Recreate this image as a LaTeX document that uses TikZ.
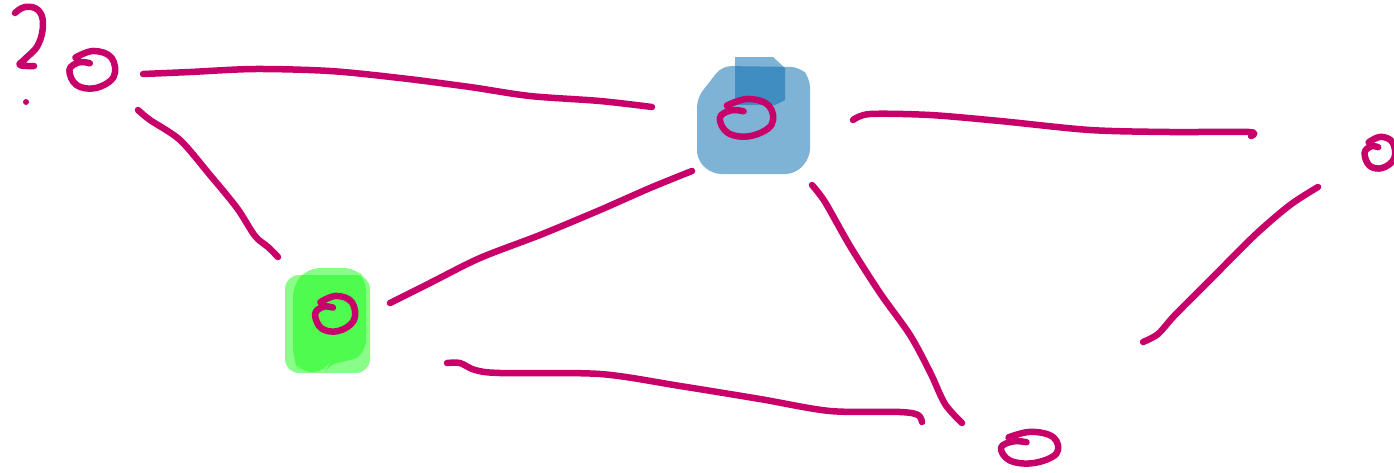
\documentclass[tikz,border=0pt]{standalone}
\definecolor{ink}{HTML}{C8006A}
\definecolor{bluefill}{RGB}{0,103,173}
\definecolor{greenfill}{RGB}{20,250,20}
\begin{document}
\begin{tikzpicture}[x=1pt,y=-1pt,
  stroke/.style={draw=ink,line width=6.5pt,line cap=round,line join=round},
  curl/.style={stroke},
  bluebox/.style={fill=bluefill,fill opacity=0.5,draw=none},
  greenbox/.style={fill=greenfill,fill opacity=0.5,draw=none}]
\useasboundingbox (0,0) rectangle (1394,472);
% node anchors
\coordinate (A) at (91,69);
\coordinate (B) at (745,117);
\coordinate (C) at (334,313);
\coordinate (D) at (1379,152);
\coordinate (E) at (1028,447);
% blue highlight
\fill[bluebox,rounded corners=9pt] (722,66) -- (800,67) -- (810,78) -- (810,158) -- (795,174) -- (712,174) -- (697,160) -- (697,98) -- cycle;
\fill[bluebox] (735,57) -- (773,57) -- (785,68) -- (785,100) -- (775,105) -- (735,105) -- cycle;
% green highlight
\fill[greenbox,rounded corners=12pt] (308,268) -- (356,268) -- (366,280) -- (366,352) -- (350,362) -- (330,362) -- (325,372) -- (300,372) -- (293,360) -- (293,285) -- cycle;
\fill[greenbox,rounded corners=14pt] (285,275) rectangle (370,373);
% question mark
\draw[stroke] plot[smooth,tension=0.7] coordinates {(15,13) (25,7) (38,10) (43,24) (38,45) (25,59) (20,65) (34,66)};
\fill[ink] (26,102) circle (3);
% node curls
\foreach \n/\rx/\ry in {A/24/19, B/28/19, C/21/18, D/16/16, E/30/16}{
  \begin{scope}[shift={(\n)},xscale=\rx,yscale=\ry]
  \draw[curl] plot[smooth,tension=0.65] coordinates {(-0.05,-0.3) (-0.5,-0.35) (-0.9,0.05) (-0.6,0.85) (0.2,1) (0.95,0.4) (0.85,-0.6) (0.1,-0.95) (-0.65,-0.6)};
  \end{scope}
}
% connectors (free ends as coordinates)
\draw[stroke] plot[smooth,tension=0.5] coordinates {(143,74) (190,72) (255,69) (330,71) (400,78) (470,87) (530,96) (600,101) (652,107)};
\draw[stroke] plot[smooth,tension=0.5] coordinates {(138,110) (150,120) (180,140) (210,175) (237,208) (255,236) (268,247) (278,257)};
\draw[stroke] plot[smooth,tension=0.5] coordinates {(390,303) (430,283) (480,258) (540,235) (600,210) (650,188) (692,171)};
\draw[stroke] plot[smooth,tension=0.5] coordinates {(853,120) (870,114) (930,115) (1000,121) (1090,130) (1170,132) (1249,132) (1251,136)};
\draw[stroke] plot[smooth,tension=0.5] coordinates {(812,185) (825,202) (850,246) (880,293) (910,335) (930,372) (945,404) (962,423)};
\draw[stroke] plot[smooth,tension=0.5] coordinates {(447,363) (460,363) (475,370) (500,373) (600,374) (680,386) (760,399) (830,411) (900,412) (918,415) (922,422)};
\draw[stroke] plot[smooth,tension=0.5] coordinates {(1318,187) (1290,205) (1255,235) (1210,280) (1175,315) (1158,334) (1143,342)};
\end{tikzpicture}
\end{document}
